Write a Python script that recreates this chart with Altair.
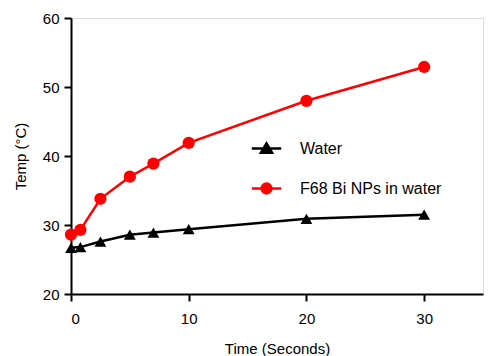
import altair as alt
import pandas as pd

# ---- data ----
time_s = [0, 0.8, 2.5, 5, 7, 10, 20, 30]
water = [26.7, 26.8, 27.6, 28.6, 28.9, 29.4, 30.9, 31.5]
f68 = [28.6, 29.3, 33.8, 37.0, 38.9, 41.9, 48.0, 52.9]
series = ["Water", "F68 Bi NPs in water"]
colors = ["#000000", "#ff0000"]
x_ticks = [0, 10, 20, 30]
y_ticks = [20, 30, 40, 50, 60]

df = pd.DataFrame({
    "time": time_s * 2,
    "temp": water + f68,
    "series": [series[0]] * len(time_s) + [series[1]] * len(time_s),
})

FONT = "Liberation Sans, Arial, Helvetica, sans-serif"

x_enc = alt.X(
    "time:Q",
    scale=alt.Scale(domain=[0, 35], nice=False, zero=False),
    axis=alt.Axis(
        values=x_ticks, title="Time (Seconds)", grid=False,
        tickSize=7, tickWidth=2, domainWidth=2, domainColor="black", tickColor="black",
        labelFontSize=15, labelColor="black", labelPadding=10, labelFont=FONT,
        titleFontSize=15, titleFontWeight="normal", titleColor="black", titleFont=FONT,
        titleX=206, titleY=47, titleBaseline="top", titleAnchor="middle"
    ),
)
y_enc = alt.Y(
    "temp:Q",
    scale=alt.Scale(domain=[20, 60], nice=False, zero=False),
    axis=alt.Axis(
        values=y_ticks, title="Temp (°C)", grid=False,
        tickSize=7, tickWidth=2, domainWidth=2, domainColor="black", tickColor="black",
        labelFontSize=15, labelColor="black", labelPadding=5, labelFont=FONT,
        titleFontSize=15, titleFontWeight="normal", titleColor="black", titleFont=FONT,
        titleX=-43, titleY=138, titleAngle=270, titleBaseline="bottom", titleAnchor="middle"
    ),
)

base = alt.Chart(df)

line_red = base.transform_filter(alt.datum.series == series[1]).mark_line(
    color=colors[1], strokeWidth=2.5).encode(x=x_enc, y=y_enc)
pts_red = base.transform_filter(alt.datum.series == series[1]).mark_point(
    shape="circle", filled=True, size=150, color=colors[1], opacity=1).encode(x=x_enc, y=y_enc)
line_black = base.transform_filter(alt.datum.series == series[0]).mark_line(
    color=colors[0], strokeWidth=2.5).encode(x=x_enc, y=y_enc)
pts_black = base.transform_filter(alt.datum.series == series[0]).mark_point(
    shape="triangle-up", filled=True, size=140, color=colors[0], opacity=1).encode(x=x_enc, y=y_enc)

# legend symbols: line segment through the marker
legend_shapes = [
    "M-2.1,0H2.1M0,-0.72L0.8,0.62L-0.8,0.62Z",
    "M-2.1,0H2.1M-0.7,0A0.7,0.7,0,1,0,0.7,0A0.7,0.7,0,1,0,-0.7,0Z",
]

leg = alt.Legend(
    title=None, orient="none", legendX=187, legendY=122,
    symbolSize=196, symbolStrokeWidth=2.5, symbolOpacity=1,
    labelOffset=25, rowPadding=20, padding=0,
    labelFontSize=16, labelColor="black", labelFont=FONT, labelLimit=400,
)

legend_layer = base.mark_point(opacity=0, filled=True).encode(
    x=x_enc, y=y_enc,
    fill=alt.Fill("series:N", scale=alt.Scale(domain=series, range=colors), legend=leg),
    stroke=alt.Stroke("series:N", scale=alt.Scale(domain=series, range=colors), legend=leg),
    shape=alt.Shape("series:N", scale=alt.Scale(domain=series, range=legend_shapes), legend=leg),
)

chart = alt.layer(line_red, pts_red, line_black, pts_black, legend_layer).properties(
    width=412, height=276,
    padding={"left": 71, "top": 18, "right": 12, "bottom": 62},
    autosize=alt.AutoSizeParams(type="none"),
    background="white",
).configure_view(stroke=None).configure(font=FONT)

chart.save("out.html", embed_options={"renderer": "svg", "actions": False})
